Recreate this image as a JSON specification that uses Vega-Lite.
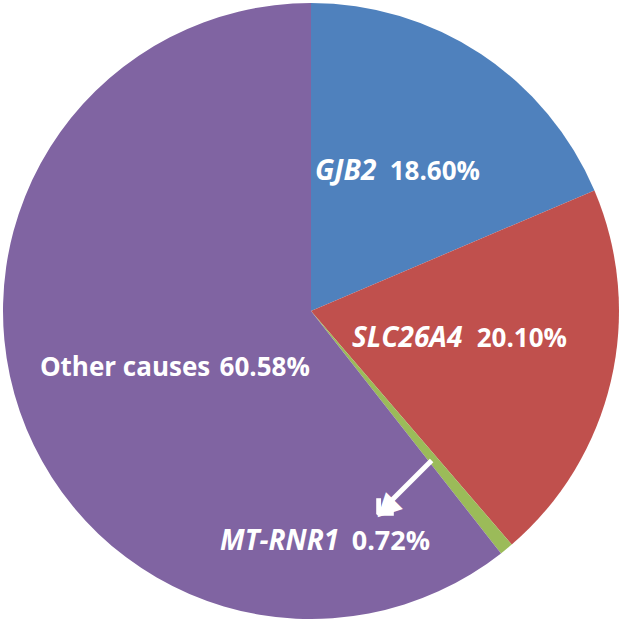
{
  "$schema": "https://vega.github.io/schema/vega-lite/v6.json",
  "width": 622,
  "height": 622,
  "autosize": {"type": "none"},
  "padding": {"left": 0, "top": 0, "right": 3, "bottom": 3},
  "background": "white",
  "config": {"view": {"stroke": null}},
  "data": {
    "values": [
      {"cause": "GJB2", "gene": "GJB2", "pct": "18.60%", "value": 18.60, "rank": 1},
      {"cause": "SLC26A4", "gene": "SLC26A4", "pct": "20.10%", "value": 20.10, "rank": 2},
      {"cause": "MT-RNR1", "gene": "MT-RNR1", "pct": "0.72%", "value": 0.72, "rank": 3},
      {"cause": "Other causes", "gene": "Other causes", "pct": "60.58%", "value": 60.58, "rank": 4}
    ]
  },
  "encoding": {
    "theta": {"field": "value", "type": "quantitative", "stack": true},
    "order": {"field": "rank", "type": "quantitative"}
  },
  "layer": [
    {
      "mark": {"type": "arc", "outerRadius": 308},
      "encoding": {
        "color": {
          "field": "cause",
          "type": "nominal",
          "scale": {
            "domain": ["GJB2", "SLC26A4", "MT-RNR1", "Other causes"],
            "range": ["#4F81BD", "#C0504D", "#9BBB59", "#8064A2"]
          },
          "legend": null
        }
      }
    },
    {
      "mark": {"type": "text", "radius": 157, "dx": -82.6, "dy": 0, "align": "left", "baseline": "alphabetic", "font": "Open Sans", "fontSize": 28, "fontWeight": "bold", "fontStyle": "italic", "color": "white"},
      "encoding": {"text": {"condition": {"test": "datum.cause === 'GJB2'", "field": "gene", "type": "nominal"}, "value": ""}}
    },
    {
      "mark": {"type": "text", "radius": 157, "dx": 82.4, "dy": 0, "align": "right", "baseline": "alphabetic", "font": "Open Sans", "fontSize": 26, "fontWeight": "bold", "color": "white"},
      "encoding": {"text": {"condition": {"test": "datum.cause === 'GJB2'", "field": "pct", "type": "nominal"}, "value": ""}}
    },
    {
      "mark": {"type": "text", "radius": 152.5, "dx": -107.5, "dy": 1.3, "align": "left", "baseline": "alphabetic", "font": "Open Sans", "fontSize": 28, "fontWeight": "bold", "fontStyle": "italic", "color": "white"},
      "encoding": {"text": {"condition": {"test": "datum.cause === 'SLC26A4'", "field": "gene", "type": "nominal"}, "value": ""}}
    },
    {
      "mark": {"type": "text", "radius": 152.5, "dx": 107.5, "dy": 1.3, "align": "right", "baseline": "alphabetic", "font": "Open Sans", "fontSize": 26, "fontWeight": "bold", "color": "white"},
      "encoding": {"text": {"condition": {"test": "datum.cause === 'SLC26A4'", "field": "pct", "type": "nominal"}, "value": ""}}
    },
    {
      "mark": {"type": "text", "radius": 144, "dx": -135, "dy": 18, "align": "left", "baseline": "alphabetic", "font": "Open Sans", "fontSize": 26, "fontWeight": "bold", "color": "white"},
      "encoding": {"text": {"condition": {"test": "datum.cause === 'Other causes'", "field": "gene", "type": "nominal"}, "value": ""}}
    },
    {
      "mark": {"type": "text", "radius": 144, "dx": 135, "dy": 18, "align": "right", "baseline": "alphabetic", "font": "Open Sans", "fontSize": 26, "fontWeight": "bold", "color": "white"},
      "encoding": {"text": {"condition": {"test": "datum.cause === 'Other causes'", "field": "pct", "type": "nominal"}, "value": ""}}
    },
    {
      "mark": {"type": "text", "radius": 193, "dx": -213.4, "dy": 89.8, "align": "left", "baseline": "alphabetic", "font": "Open Sans", "fontSize": 28, "fontWeight": "bold", "fontStyle": "italic", "color": "white"},
      "encoding": {"text": {"condition": {"test": "datum.cause === 'MT-RNR1'", "field": "gene", "type": "nominal"}, "value": ""}}
    },
    {
      "mark": {"type": "text", "radius": 193, "dx": -3.4, "dy": 89.8, "align": "right", "baseline": "alphabetic", "font": "Open Sans", "fontSize": 27, "fontWeight": "bold", "color": "white"},
      "encoding": {"text": {"condition": {"test": "datum.cause === 'MT-RNR1'", "field": "pct", "type": "nominal"}, "value": ""}}
    },
    {
      "mark": {"type": "text", "radius": 193, "dx": -39.7, "dy": 0, "angle": 315, "align": "center", "baseline": "middle", "font": "DejaVu Sans", "fontSize": 58, "color": "white"},
      "encoding": {"text": {"condition": {"test": "datum.cause === 'MT-RNR1'", "value": "⟵"}, "value": ""}}
    },
    {
      "mark": {"type": "text", "radius": 193, "dx": -68, "dy": 0, "angle": 315, "align": "center", "baseline": "middle", "font": "DejaVu Sans", "fontSize": 31, "color": "white"},
      "encoding": {"text": {"condition": {"test": "datum.cause === 'MT-RNR1'", "value": "◀"}, "value": ""}}
    }
  ]
}
